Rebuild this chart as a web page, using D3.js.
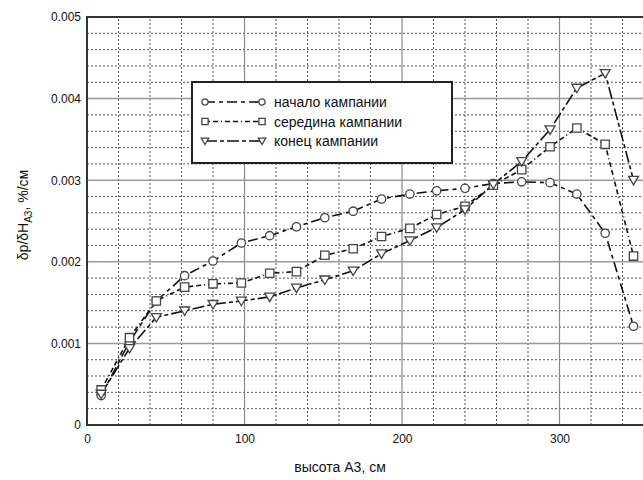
<!DOCTYPE html>
<html>
<head>
<meta charset="utf-8">
<script src="https://cdn.jsdelivr.net/npm/d3@7"></script>
<style>
  body { margin: 0; background: #fff; }
  svg { display: block; font-family: Arial, "Liberation Sans", sans-serif; }
</style>
</head>
<body>
<div id="wrapper"></div>
<script>
// heights, cm
const heights = [9, 27, 44, 62, 80, 98, 116, 133, 151, 169, 187, 205, 222, 240, 258, 276, 294, 311, 329, 347];

const startValues = [0.00036, 0.00102, 0.00152, 0.00183, 0.00201, 0.00223, 0.00232, 0.00243, 0.00254, 0.00262,
                     0.00277, 0.00283, 0.00287, 0.00290, 0.00296, 0.00298, 0.00297, 0.00283, 0.00235, 0.00121];
const middleValues = [0.00043, 0.00107, 0.00152, 0.00169, 0.00173, 0.00174, 0.00186, 0.00188, 0.00208, 0.00216,
                      0.00231, 0.00241, 0.00258, 0.00268, 0.00294, 0.00313, 0.00341, 0.00364, 0.00344, 0.00207];
const endValues = [0.00038, 0.00094, 0.00132, 0.00140, 0.00148, 0.00152, 0.00157, 0.00168, 0.00178, 0.00189,
                   0.00210, 0.00226, 0.00242, 0.00264, 0.00295, 0.00323, 0.00362, 0.00413, 0.00431, 0.00300];

const seriesNames = ["начало кампании", "середина кампании", "конец кампании"];
const xTicks = [0, 100, 200, 300];
const yTicks = [0, 0.001, 0.002, 0.003, 0.004, 0.005];

const dimensions = {
  width: 643,
  height: 480,
  margins: { top: 17, left: 87, bottom: 55 }
};
dimensions.boundedHeight = dimensions.height - dimensions.margins.top - dimensions.margins.bottom;

const svg = d3.select("#wrapper").append("svg")
  .attr("width", dimensions.width)
  .attr("height", dimensions.height);

// x axis runs past the right edge of the picture
const xScale = d3.scaleLinear()
  .domain([0, 360])
  .range([dimensions.margins.left, dimensions.margins.left + 360 * 1.575]);

const yScale = d3.scaleLinear()
  .domain([0, 0.005])
  .range([dimensions.margins.top + dimensions.boundedHeight, dimensions.margins.top]);

const grid = svg.append("g");

// minor grid
d3.range(20, 360, 20).filter(v => v % 100 !== 0).forEach(v => {
  grid.append("line")
    .attr("x1", xScale(v)).attr("x2", xScale(v))
    .attr("y1", yScale(0)).attr("y2", yScale(0.005))
    .attr("stroke", "#555").attr("stroke-width", 1)
    .attr("stroke-dasharray", "2,2");
});
d3.range(1, 25).filter(i => i % 5 !== 0).forEach(i => {
  const v = i * 0.0002;
  grid.append("line")
    .attr("x1", xScale(0)).attr("x2", dimensions.width)
    .attr("y1", yScale(v)).attr("y2", yScale(v))
    .attr("stroke", "#555").attr("stroke-width", 1)
    .attr("stroke-dasharray", "2,2");
});

// major grid
xTicks.slice(1).forEach(v => {
  grid.append("line")
    .attr("x1", xScale(v)).attr("x2", xScale(v))
    .attr("y1", yScale(0)).attr("y2", yScale(0.005))
    .attr("stroke", "#888").attr("stroke-width", 1.2);
});
yTicks.slice(1, -1).forEach(v => {
  grid.append("line")
    .attr("x1", xScale(0)).attr("x2", dimensions.width)
    .attr("y1", yScale(v)).attr("y2", yScale(v))
    .attr("stroke", "#999").attr("stroke-width", 1.5);
});

// frame
svg.append("line")
  .attr("x1", xScale(0)).attr("x2", xScale(0))
  .attr("y1", yScale(0) + 1).attr("y2", yScale(0.005) - 1)
  .attr("stroke", "#333").attr("stroke-width", 2);
svg.append("line")
  .attr("x1", xScale(0)).attr("x2", dimensions.width)
  .attr("y1", yScale(0)).attr("y2", yScale(0))
  .attr("stroke", "#333").attr("stroke-width", 2);
svg.append("line")
  .attr("x1", xScale(0)).attr("x2", dimensions.width)
  .attr("y1", yScale(0.005)).attr("y2", yScale(0.005))
  .attr("stroke", "#333").attr("stroke-width", 2);

// tick labels
const xAxis = svg.append("g")
  .attr("transform", `translate(0, ${yScale(0)})`)
  .call(d3.axisBottom(xScale).tickValues(xTicks).tickSize(0).tickPadding(9).tickFormat(d3.format("d")));
xAxis.select(".domain").remove();
xAxis.selectAll("text").attr("font-size", 12).attr("fill", "#111")
  .attr("font-family", "Arial, 'Liberation Sans', sans-serif");

const yAxis = svg.append("g")
  .attr("transform", `translate(${xScale(0)}, 0)`)
  .call(d3.axisLeft(yScale).tickValues(yTicks).tickSize(0).tickPadding(6)
    .tickFormat(d => d === 0 ? "0" : d3.format(".3f")(d)));
yAxis.select(".domain").remove();
yAxis.selectAll("text").attr("font-size", 12).attr("fill", "#111")
  .attr("font-family", "Arial, 'Liberation Sans', sans-serif");

// axis titles
svg.append("text")
  .attr("x", 340).attr("y", 472)
  .attr("text-anchor", "middle")
  .attr("font-size", 14).attr("fill", "#111")
  .text("высота А3, см");

const yLabel = svg.append("text")
  .attr("transform", `translate(28, 215) rotate(-90)`)
  .attr("text-anchor", "middle")
  .attr("font-size", 14).attr("fill", "#111");
yLabel.append("tspan").text("δp/δH");
yLabel.append("tspan").attr("font-size", 10).attr("dy", 4).text("А3");
yLabel.append("tspan").attr("dy", -4).text(", %/см");

// series
const series = [
  { name: seriesNames[0], values: startValues, dash: "10,4,4,4", symbol: d3.symbolCircle },
  { name: seriesNames[1], values: middleValues, dash: "5,3,5,3,1,3", symbol: d3.symbolSquare },
  { name: seriesNames[2], values: endValues, dash: "12,3,4,3", symbol: "triangle" }
];

const lineGenerator = d3.line()
  .x(d => xScale(d[0]))
  .y(d => yScale(d[1]));

function drawMarker(g, symbol, x, y, k = 1) {
  if (symbol === "triangle") {
    const s = 5 * k;
    g.append("path")
      .attr("d", `M${x - s},${y - s * 0.75}L${x + s},${y - s * 0.75}L${x},${y + s * 0.95}Z`)
      .attr("fill", "#fff").attr("stroke", "#444").attr("stroke-width", 1.3);
  } else {
    g.append("path")
      .attr("transform", `translate(${x},${y})`)
      .attr("d", d3.symbol().type(symbol).size((symbol === d3.symbolSquare ? 70 : 55) * k * k)())
      .attr("fill", "#fff").attr("stroke", "#444").attr("stroke-width", 1.3);
  }
}

const linesGroup = svg.append("g");
const markersGroup = svg.append("g");

series.forEach(s => {
  const pts = heights.map((h, i) => [h, s.values[i]]);
  linesGroup.append("path")
    .datum(pts)
    .attr("d", lineGenerator)
    .attr("fill", "none")
    .attr("stroke", "#111")
    .attr("stroke-width", 1.6)
    .attr("stroke-dasharray", s.dash);
  pts.forEach(p => drawMarker(markersGroup, s.symbol, xScale(p[0]), yScale(p[1])));
});

// legend
const legend = svg.append("g");
legend.append("rect")
  .attr("x", 192).attr("y", 82)
  .attr("width", 260).attr("height", 81)
  .attr("fill", "#fff")
  .attr("stroke", "#222").attr("stroke-width", 2);

series.forEach((s, i) => {
  const y = 102 + i * 19.5;
  legend.append("line")
    .attr("x1", 205).attr("x2", 262)
    .attr("y1", y).attr("y2", y)
    .attr("stroke", "#111").attr("stroke-width", 1.6)
    .attr("stroke-dasharray", s.dash);
  drawMarker(legend, s.symbol, 205, y, 0.75);
  drawMarker(legend, s.symbol, 262, y, 0.75);
  legend.append("text")
    .attr("x", 274).attr("y", y + 5)
    .attr("font-size", 14).attr("fill", "#111")
    .text(s.name);
});
</script>
</body>
</html>
